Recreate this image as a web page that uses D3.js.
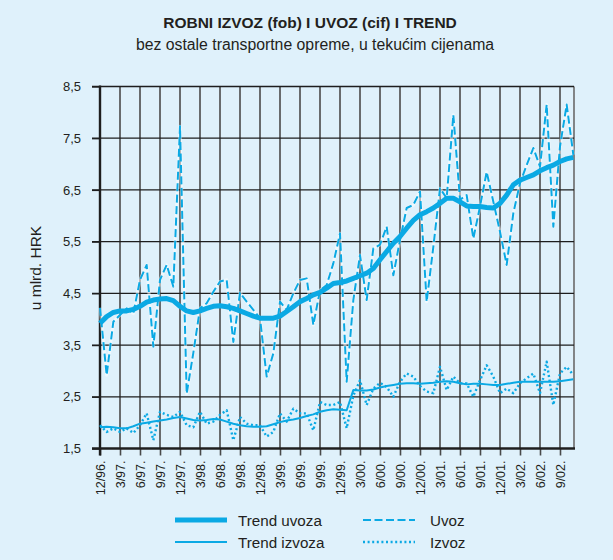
<!DOCTYPE html>
<html>
<head>
<meta charset="utf-8">
<script src="https://cdn.jsdelivr.net/npm/d3@7/dist/d3.min.js"></script>
<style>
  html, body { margin: 0; padding: 0; background: #dff1fb; }
  svg { display: block; font-family: "Liberation Sans", Arial, Helvetica, sans-serif; }
</style>
</head>
<body>
<svg id="chart" width="613" height="560"></svg>
<script>
// Monthly values, December 1996 – November 2002 (billions of HRK)
const uvoz = [
  4.22, 2.92, 3.95, 4.08, 4.21, 4.11, 4.76, 5.05, 3.47, 4.76, 5.05, 4.63,
  7.73, 2.56, 3.35, 4.21, 4.31, 4.53, 4.73, 4.76, 3.56, 4.51, 4.34, 4.18,
  4.02, 2.89, 3.34, 4.34, 4.18, 4.50, 4.76, 4.79, 3.89, 4.56, 4.66, 5.08,
  5.66, 2.79, 4.37, 5.24, 4.37, 5.37, 5.44, 5.79, 4.85, 5.53, 6.15, 6.21,
  6.47, 4.34, 5.40, 6.53, 6.34, 7.95, 6.31, 6.40, 5.56, 6.18, 6.85, 6.27,
  5.69, 5.05, 6.05, 6.63, 6.98, 7.31, 6.95, 8.15, 5.79, 7.34, 8.15, 7.18
];
const trendUvoza = [
  3.92, 4.05, 4.13, 4.16, 4.16, 4.19, 4.25, 4.33, 4.37, 4.39, 4.40, 4.36,
  4.25, 4.16, 4.13, 4.16, 4.21, 4.25, 4.26, 4.24, 4.21, 4.16, 4.11, 4.06,
  4.02, 4.02, 4.02, 4.06, 4.15, 4.24, 4.34, 4.40, 4.47, 4.52, 4.60, 4.69,
  4.71, 4.74, 4.79, 4.84, 4.89, 4.98, 5.15, 5.31, 5.47, 5.60, 5.76, 5.91,
  6.02, 6.08, 6.15, 6.24, 6.34, 6.34, 6.27, 6.19, 6.18, 6.18, 6.16, 6.15,
  6.24, 6.40, 6.60, 6.69, 6.74, 6.79, 6.87, 6.93, 6.98, 7.05, 7.10, 7.13
];
const izvoz = [
  1.95, 1.82, 1.89, 1.82, 1.89, 1.80, 1.95, 2.18, 1.66, 2.21, 2.15, 2.11,
  2.21, 1.95, 1.91, 2.21, 1.98, 2.02, 2.15, 2.24, 1.66, 2.11, 1.98, 1.95,
  1.95, 1.73, 1.82, 2.18, 2.02, 2.27, 2.18, 2.18, 1.85, 2.40, 2.34, 2.34,
  2.40, 1.89, 2.52, 2.82, 2.34, 2.66, 2.77, 2.69, 2.50, 2.79, 2.95, 2.89,
  2.71, 2.60, 2.57, 3.08, 2.63, 2.89, 2.76, 2.76, 2.50, 2.82, 3.11, 2.89,
  2.57, 2.66, 2.57, 2.76, 2.86, 2.95, 2.57, 3.18, 2.34, 2.95, 3.08, 2.92
];
const trendIzvoza = [
  1.91, 1.92, 1.91, 1.89, 1.89, 1.93, 1.98, 2.00, 2.02, 2.04, 2.06, 2.09,
  2.11, 2.08, 2.05, 2.04, 2.05, 2.07, 2.06, 2.02, 1.98, 1.95, 1.93, 1.92,
  1.92, 1.93, 1.97, 2.01, 2.04, 2.06, 2.09, 2.13, 2.16, 2.21, 2.24, 2.26,
  2.25, 2.24, 2.63, 2.62, 2.62, 2.64, 2.68, 2.71, 2.73, 2.75, 2.76, 2.76,
  2.75, 2.76, 2.77, 2.79, 2.80, 2.79, 2.76, 2.74, 2.75, 2.75, 2.74, 2.73,
  2.73, 2.75, 2.77, 2.79, 2.79, 2.79, 2.79, 2.79, 2.79, 2.80, 2.82, 2.84
];
// Quarter labels, one every third month starting at 12/96
const quarterLabels = [
  "12/96.", "3/97.", "6/97.", "9/97.", "12/97.", "3/98.", "6/98.", "9/98.",
  "12/98.", "3/99.", "6/99.", "9/99.", "12/99.", "3/00.", "6/00.", "9/00.",
  "12/00.", "3/01.", "6/01.", "9/01.", "12/01.", "3/02.", "6/02.", "9/02."
];
const yTicks = [1.5, 2.5, 3.5, 4.5, 5.5, 6.5, 7.5, 8.5];

const BLUE = "#0aa9e4";
const svg = d3.select("#chart");

const plotLeft = 100, plotRight = 574, plotTop = 86.5, plotBottom = 448.5;
const nMonths = uvoz.length;
const x = d3.scaleLinear().domain([0, nMonths - 1])
  .range([plotLeft, plotLeft + (nMonths - 1) * 20 / 3]);
const y = d3.scaleLinear().domain([1.5, 8.5]).range([plotBottom, plotTop]);

// Titles
svg.append("text").attr("x", 310).attr("y", 28).attr("text-anchor", "middle")
  .attr("font-size", 15.5).attr("font-weight", "bold").attr("fill", "#231f20")
  .text("ROBNI IZVOZ (fob) I UVOZ (cif) I TREND");
svg.append("text").attr("x", 315).attr("y", 50).attr("text-anchor", "middle")
  .attr("font-size", 15.8).attr("fill", "#231f20")
  .text("bez ostale transportne opreme, u tekućim cijenama");

// Vertical grid lines at each quarter
const quarterIdx = quarterLabels.map((d, i) => i * 3);
svg.append("g").selectAll("line").data(quarterIdx.slice(1)).join("line")
  .attr("x1", d => x(d)).attr("x2", d => x(d))
  .attr("y1", plotTop).attr("y2", plotBottom)
  .attr("stroke", "#4a4a4a").attr("stroke-width", 1.6);
// Right border
svg.append("line").attr("x1", plotRight).attr("x2", plotRight)
  .attr("y1", plotTop).attr("y2", plotBottom)
  .attr("stroke", "#6a6a6a").attr("stroke-width", 1.6);

// Horizontal grid lines
svg.append("g").selectAll("line").data(yTicks.slice(1)).join("line")
  .attr("x1", plotLeft - 8).attr("x2", plotRight)
  .attr("y1", d => y(d)).attr("y2", d => y(d))
  .attr("stroke", "#1e1e1e").attr("stroke-width", 1.3);

// Axes
const yAxis = d3.axisLeft(y).tickValues(yTicks).tickSize(8).tickPadding(11)
  .tickFormat(d => d3.format(".1f")(d).replace(".", ","));
const gy = svg.append("g").attr("transform", `translate(${plotLeft},0)`).call(yAxis);
gy.select(".domain").remove();
gy.selectAll(".tick line").attr("stroke", "#1e1e1e").attr("stroke-width", 1.3);
gy.selectAll(".tick text").attr("font-size", 13).attr("fill", "#231f20")
  .attr("font-family", "'Liberation Sans', Arial, sans-serif");

const xAxis = d3.axisBottom(x).tickValues(quarterIdx).tickSize(7)
  .tickFormat((d, i) => quarterLabels[i]);
const gx = svg.append("g").attr("transform", `translate(0,${plotBottom})`).call(xAxis);
gx.select(".domain").remove();
gx.selectAll(".tick line").attr("stroke", "#4a4a4a").attr("stroke-width", 1.6);
gx.selectAll(".tick text")
  .attr("font-size", 12.5).attr("fill", "#231f20")
  .attr("font-family", "'Liberation Sans', Arial, sans-serif")
  .attr("transform", "rotate(-90)")
  .attr("text-anchor", "end").attr("x", -12).attr("y", 0).attr("dy", "0.35em");

// Heavy axis lines
svg.append("line").attr("x1", plotLeft).attr("x2", plotLeft)
  .attr("y1", plotTop - 1).attr("y2", plotBottom + 7)
  .attr("stroke", "#1e1e1e").attr("stroke-width", 2.4);
svg.append("line").attr("x1", plotLeft - 8).attr("x2", plotRight + 1)
  .attr("y1", plotBottom).attr("y2", plotBottom)
  .attr("stroke", "#1e1e1e").attr("stroke-width", 2.4);

// Y axis title
svg.append("text").attr("transform", "translate(41,268) rotate(-90)")
  .attr("text-anchor", "middle").attr("font-size", 15.5).attr("fill", "#231f20")
  .text("u mlrd. HRK");

// Series
const line = d3.line().x((d, i) => x(i)).y(d => y(d));
const series = [
  { data: uvoz, width: 2, dash: "8,3.5", halo: true },
  { data: izvoz, width: 2.4, dash: "2,2.6", halo: false },
  { data: trendIzvoza, width: 2, dash: null, halo: false },
  { data: trendUvoza, width: 5, dash: null, halo: false }
];
const gs = svg.append("g");
series.forEach(s => {
  if (s.halo) {
    gs.append("path").datum(s.data).attr("d", line).attr("fill", "none")
      .attr("stroke", "#ffffff").attr("stroke-width", s.width + 1.2)
      .attr("stroke-opacity", 0.5).attr("stroke-linejoin", "round");
  }
  gs.append("path").datum(s.data).attr("d", line).attr("fill", "none")
    .attr("stroke", BLUE).attr("stroke-width", s.width)
    .attr("stroke-dasharray", s.dash)
    .attr("stroke-linejoin", "round");
});

// Legend
const legend = [
  { label: "Trend uvoza", x: 175, y: 520, width: 5, dash: null },
  { label: "Trend izvoza", x: 175, y: 542, width: 2, dash: null },
  { label: "Uvoz", x: 363, y: 520, width: 2, dash: "8,3.5" },
  { label: "Izvoz", x: 363, y: 542, width: 2.4, dash: "2,2.6" }
];
const gl = svg.append("g");
legend.forEach(l => {
  gl.append("line").attr("x1", l.x).attr("x2", l.x + 52).attr("y1", l.y).attr("y2", l.y)
    .attr("stroke", BLUE).attr("stroke-width", l.width).attr("stroke-dasharray", l.dash);
  gl.append("text").attr("x", l.x + (l.dash ? 67 : 63)).attr("y", l.y + 6)
    .attr("font-size", 15.2).attr("fill", "#231f20").text(l.label);
});
</script>
</body>
</html>
